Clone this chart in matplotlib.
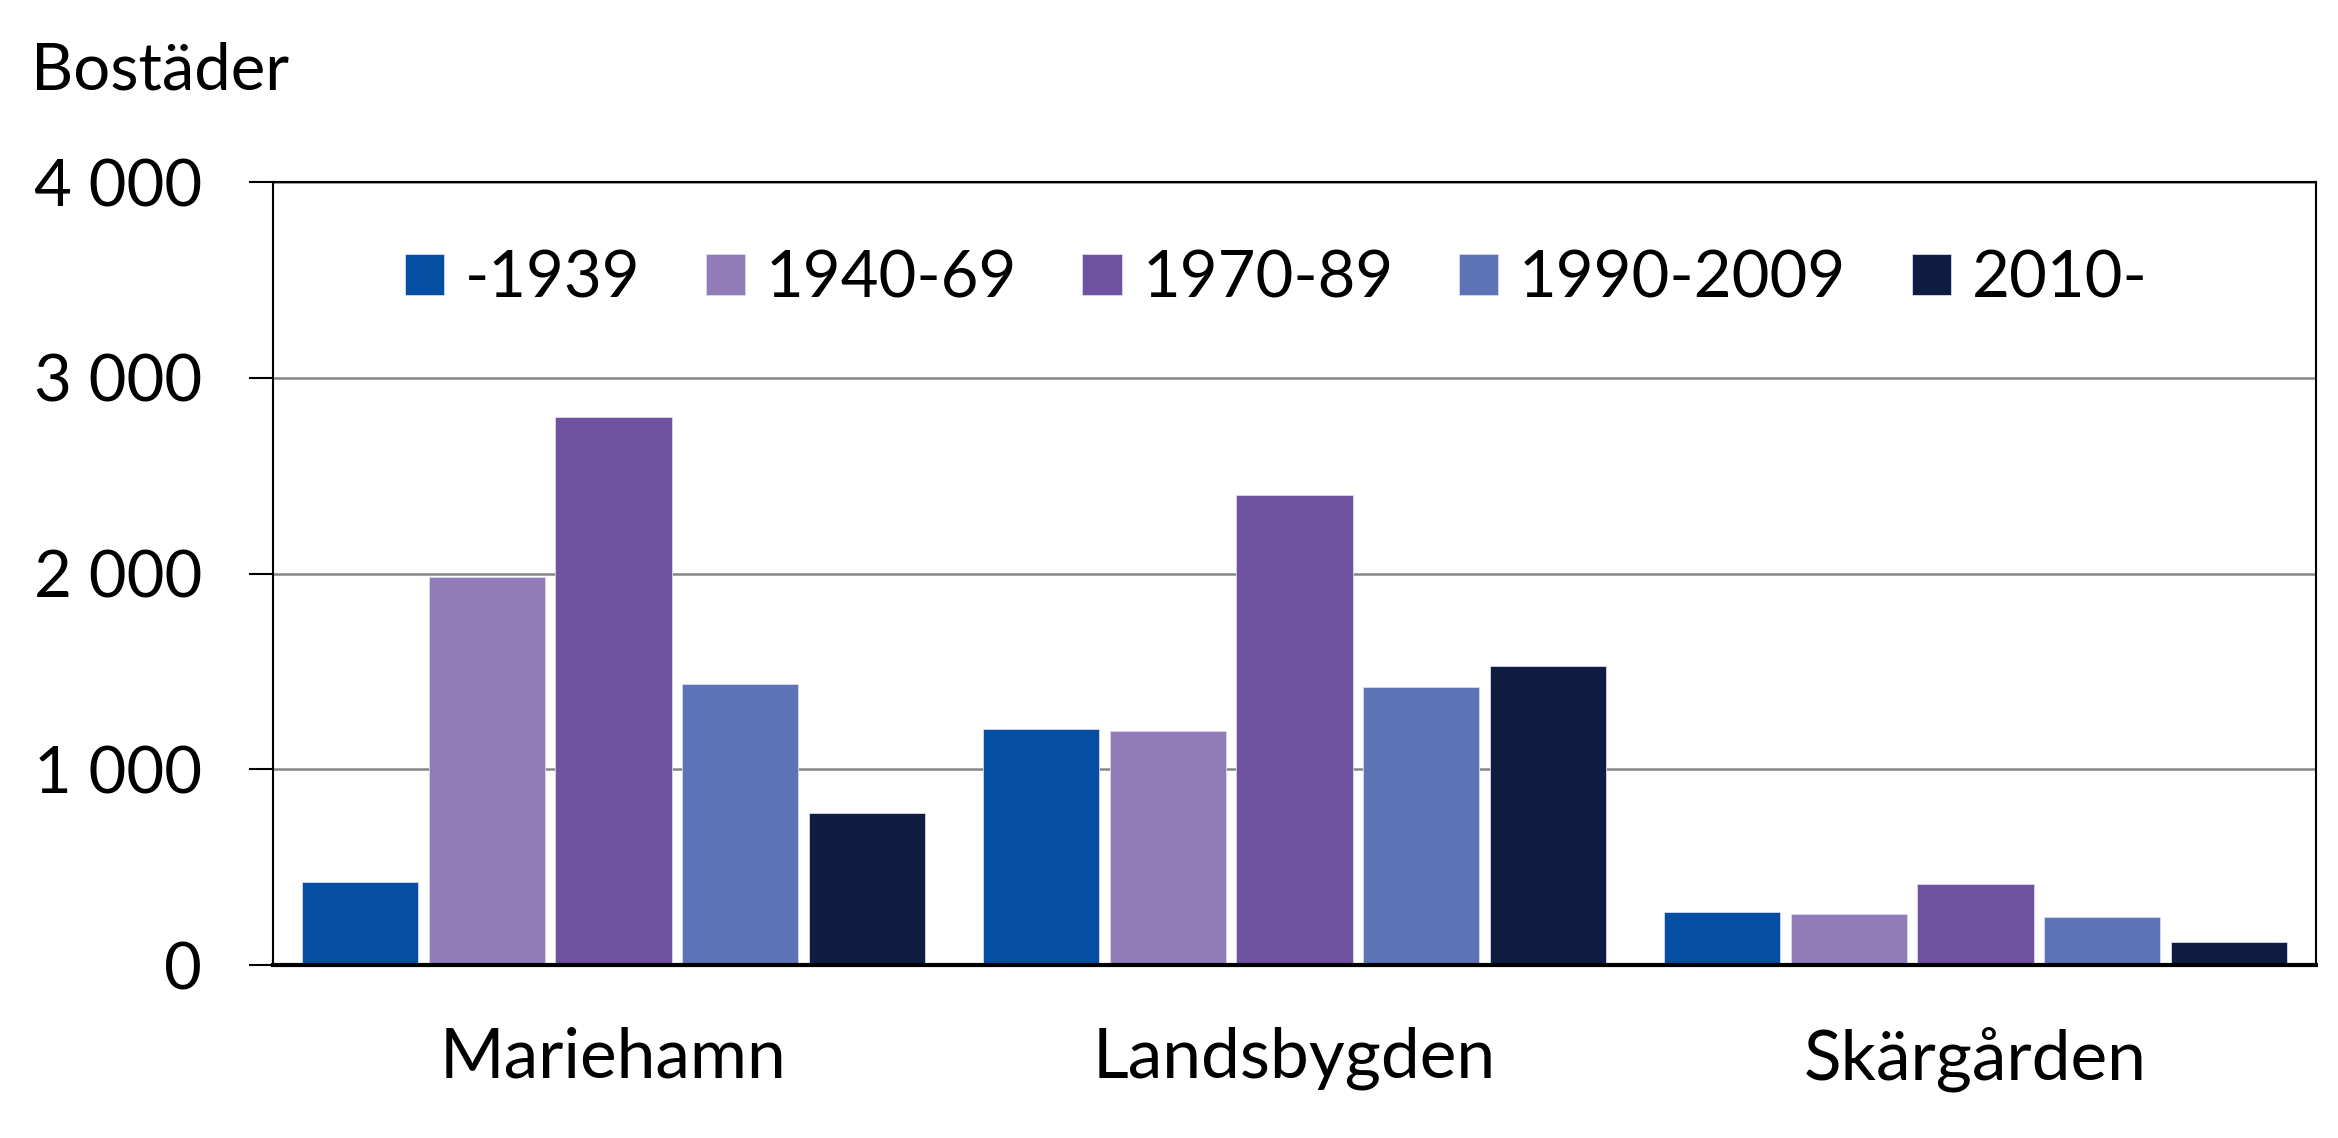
import numpy as np
import matplotlib
matplotlib.use("Agg")
import matplotlib.pyplot as plt

plt.rcParams['font.family'] = ['Lato', 'DejaVu Sans']

regions = ["Mariehamn", "Landsbygden", "Skärgården"]
periods = ["-1939", "1940-69", "1970-89", "1990-2009", "2010-"]

# dwellings by construction period, per region
pre_1939 = [423, 1205, 273]
y1940_69 = [1980, 1195, 261]
y1970_89 = [2800, 2400, 416]
y1990_2009 = [1435, 1420, 245]
y2010_on = [778, 1526, 118]

colors = ["#044EA4", "#917BB9", "#6F52A0", "#5C74B6", "#0E1C42"]
y_ticks = [0, 1000, 2000, 3000, 4000]
y_tick_labels = ["0", "1 000", "2 000", "3 000", "4 000"]

W, H = 2338, 1138
fig = plt.figure(figsize=(W / 100, H / 100), dpi=100)
ax = fig.add_axes([273 / W, (H - 965) / H, (2316 - 273) / W, (965 - 182) / H])

series = [pre_1939, y1940_69, y1970_89, y1990_2009, y2010_on]
x = np.arange(len(regions))
pitch = 0.186
width = 0.171
for i, (vals, lab, col) in enumerate(zip(series, periods, colors)):
    ax.bar(x + (i - 2) * pitch, vals, width, color=col, label=lab, zorder=2,
           edgecolor="#d9d9ee", linewidth=0.6)

ax.set_xlim(-0.5, 2.5)
ax.set_ylim(0, 4000)
ax.set_yticks(y_ticks)
ax.set_yticklabels(y_tick_labels)
ax.set_xticks(x)
ax.set_xticklabels(regions)

ax.yaxis.grid(True, color="#878787", linewidth=1.8, zorder=0)
ax.set_axisbelow(True)

for side in ["top", "right", "left"]:
    ax.spines[side].set_linewidth(1.5)
    ax.spines[side].set_color("black")
ax.spines["bottom"].set_linewidth(3)

ax.tick_params(axis="y", direction="out", length=17, width=1.5,
               labelsize=47, pad=34)
ax.tick_params(axis="x", length=0, labelsize=50, pad=44)

fig.text(31 / W, 1 - 90 / H, "Bostäder", fontsize=47, ha="left", va="baseline")

ax.legend(loc="center", bbox_to_anchor=(0.491, 0.876), ncol=5, frameon=False,
          fontsize=47, handlelength=0.6, handleheight=0.6, handletextpad=0.32,
          columnspacing=1.0, borderpad=0)

fig.savefig("out.png", dpi=100)
